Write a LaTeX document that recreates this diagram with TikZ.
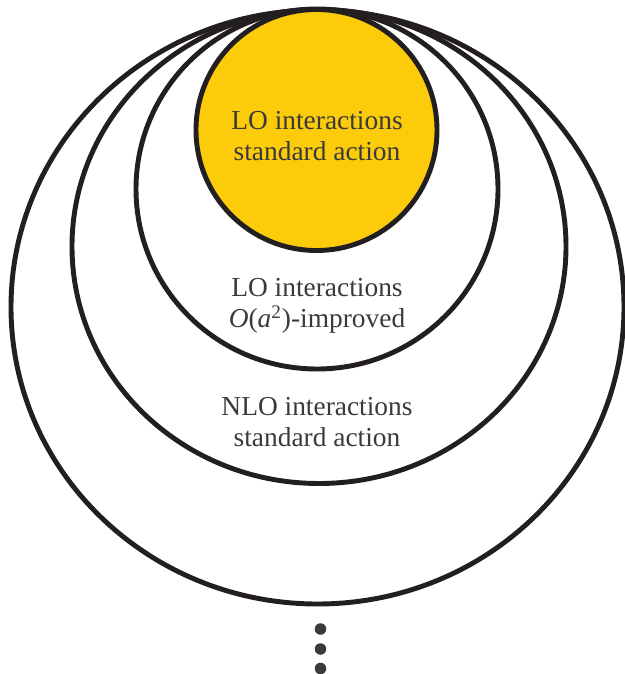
\documentclass[tikz,border=0pt]{standalone}
\usepackage{fontspec}
\setmainfont{Liberation Serif}
\usepackage{tikz}
\definecolor{lored}{RGB}{252,203,10}
\definecolor{rim}{RGB}{35,31,32}
\definecolor{ink}{RGB}{58,58,60}

\begin{document}
\begin{tikzpicture}[ring/.style={draw=rim, line width=2.8pt},
  lbl/.style={align=center, text=ink, font=\fontsize{15.6}{18}\selectfont},
  dot/.style={circle, fill=ink, inner sep=0pt, minimum size=0.23cm}]
\useasboundingbox (0,0) rectangle (12.5,-13.48);
\draw[ring] (6.35,-6.14) ellipse (6.13 and 5.94);
\draw[ring] (6.38,-4.93) ellipse (4.94 and 4.74);
\draw[ring] (6.34,-3.78) ellipse (3.62 and 3.6);
\draw[ring, fill=lored] (6.33,-2.6) circle (2.41);
\node[lbl] (lostd) at (6.34,-2.72) {LO interactions\\standard action};
\node[lbl] (loimp) at (6.34,-6.12) {LO interactions\\\textit{O}(\textit{a}\textsuperscript{2})-improved};
\node[lbl] (nlostd) at (6.34,-8.44) {NLO interactions\\standard action};
\node[dot] (d1) at (6.41,-12.58) {};
\node[dot] (d2) at (6.41,-12.98) {};
\node[dot] (d3) at (6.41,-13.37) {};
\end{tikzpicture}
\end{document}
